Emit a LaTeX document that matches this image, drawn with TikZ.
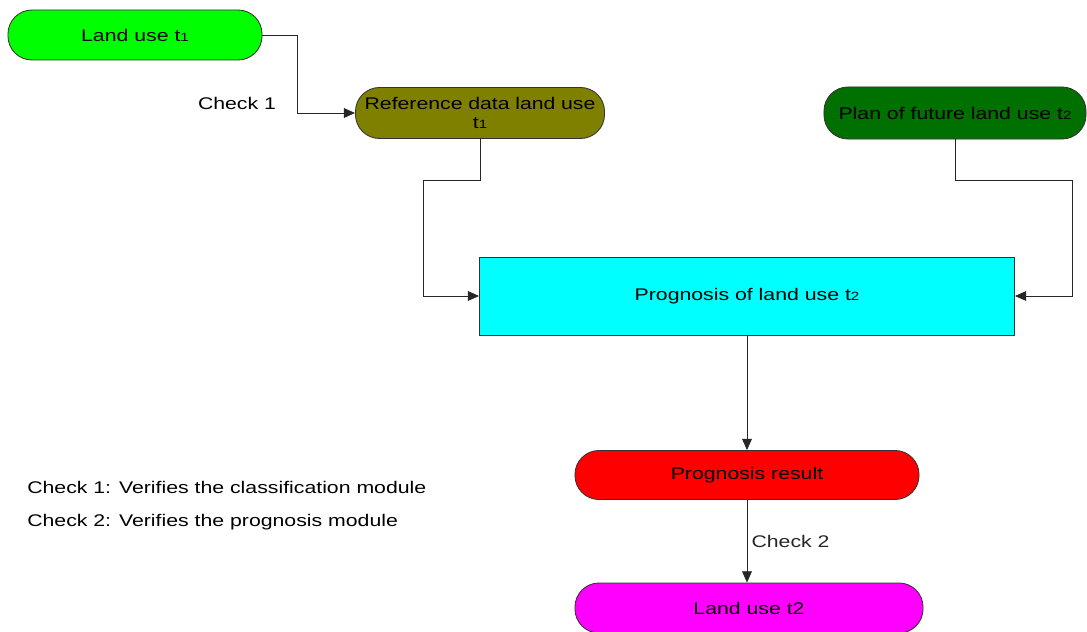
\documentclass[tikz,border=0pt]{standalone}
\usepackage{fontspec}
\setmainfont{Liberation Sans}[FakeStretch=1.26]
\usetikzlibrary{positioning,arrows.meta}
\definecolor{landgreen}{HTML}{00FF00}
\definecolor{refolive}{HTML}{808000}
\definecolor{plangreen}{HTML}{007000}
\definecolor{progcyan}{HTML}{00FFFF}
\definecolor{resred}{HTML}{FF0000}
\definecolor{landmag}{HTML}{FF00FF}
\newcommand{\tsub}[1]{{\fontsize{8.5pt}{8.5pt}\selectfont #1}}

\begin{document}
\begin{tikzpicture}[
  x=0.025cm, y=-0.025cm,
  font=\fontsize{12pt}{14pt}\selectfont,
  pill/.style={rectangle, rounded corners=0.6cm, draw=black!80, line width=0.6pt, align=center, inner sep=1pt},
  progbox/.style={rectangle, draw=black!80, line width=0.6pt, fill=progcyan, align=center},
  arr/.style={-{Triangle[length=8pt, width=7pt]}, line width=0.5pt, black!85},
  lbl/.style={inner sep=0pt, anchor=west}
]
\useasboundingbox (0,0) rectangle (1087,632);
\node[pill, fill=landgreen, minimum width=6.35cm, minimum height=1.25cm] (lu1) at (135,35) {Land use t\tsub{1}};
\node[pill, fill=refolive, minimum width=6.225cm, minimum height=1.275cm, text width=6.1cm] (ref) at (480,113) {Reference data land use\\t\tsub{1}};
\node[pill, fill=plangreen, minimum width=6.55cm, minimum height=1.3cm] (plan) at (955,113) {Plan of future land use t\tsub{2}};
\node[progbox, minimum width=13.375cm, minimum height=1.95cm] (prog) at (747,296) {Prognosis of land use t\tsub{2}};
\node[pill, fill=resred, minimum width=8.6cm, minimum height=1.225cm] (res) at (747,475) {Prognosis result};
\node[pill, fill=landmag, minimum width=8.7cm, minimum height=1.25cm] (lu2) at (749,608) {Land use t2};
\node[anchor=center, inner sep=0pt] (chk1) at (237,103) {Check 1};
\node[lbl] (leg1) at (27,487) {Check 1: Verifies the classification module};
\node[lbl] (leg2) at (27,522) {Check 2: Verifies the prognosis module};
\draw[arr] (lu1.east) -- ++(35,0) |- (ref.west);
\draw[arr] (ref.south) -- ++(0,41) -- ++(-57,0) |- (prog.west);
\draw[arr] (plan.south) -- ++(0,41) -- ++(117,0) |- (prog.east);
\draw[arr] (prog.south) -- (res.north);
\draw[arr] (res.south) -- node[right, pos=0.5, inner sep=3pt] (chk2) {Check 2} (res.south |- lu2.north);
\end{tikzpicture}
\end{document}
